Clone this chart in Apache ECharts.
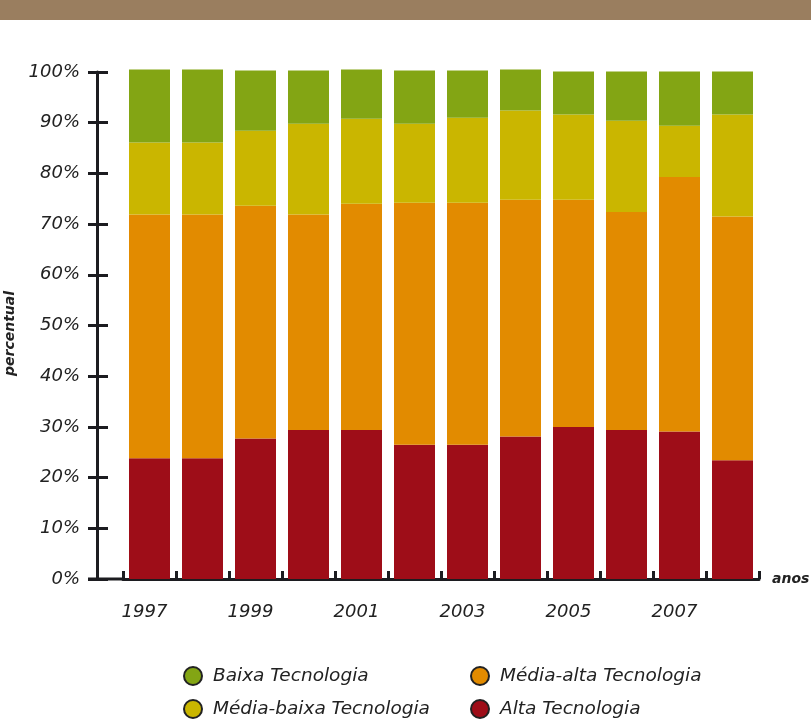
<!DOCTYPE html>
<html>
<head>
<meta charset="utf-8">
<script src="https://cdn.jsdelivr.net/npm/echarts@6/dist/echarts.min.js"></script>
<style>
html,body{margin:0;padding:0;background:#fff;}
#c{width:811px;height:720px;}
</style>
</head>
<body>
<div id="c"></div>
<script>
const years = ['1997','1998','1999','2000','2001','2002','2003','2004','2005','2006','2007','2008'];
const alta       = [23.8, 23.8, 27.7, 29.4, 29.4, 26.5, 26.5, 28.1, 30.0, 29.4, 29.1, 23.4];
const mediaAlta  = [48.1, 48.1, 45.9, 42.5, 44.6, 47.7, 47.7, 46.7, 44.8, 43.0, 50.2, 48.1];
const mediaBaixa = [14.2, 14.2, 14.8, 17.9, 16.8, 15.6, 16.8, 17.6, 16.8, 18.0, 10.1, 20.1];
const baixa      = [14.4, 14.4, 11.9, 10.5, 9.7, 10.5, 9.3, 8.1, 8.5, 9.7, 10.7, 8.5];
const names = ['Baixa Tecnologia','Média-baixa Tecnologia','Média-alta Tecnologia','Alta Tecnologia'];
const colors = {alta:'#9e0d18', mediaAlta:'#e28b00', mediaBaixa:'#cab600', baixa:'#83a514'};

const FONT = 'DejaVu Sans';
const INK = '#1c1c20';
const GRID = {left:123, right:52, top:72, bottom:141, outerBoundsMode:'none', containLabel:false};

const chart = echarts.init(document.getElementById('c'), null, {renderer:'canvas'});

function bar(name, data, color){
  return {name, type:'bar', stack:'t', data, barWidth:41, clip:false,
    itemStyle:{color}, emphasis:{disabled:true}};
}
function legend(name, left, top){
  return {data:[name], orient:'horizontal', left, top, padding:0, itemWidth:18, itemHeight:18,
    icon:'circle', itemStyle:{borderColor:'#222', borderWidth:2},
    textStyle:{fontFamily:FONT, fontStyle:'italic', fontSize:18.5, color:'#222', padding:[0,0,0,6]}};
}

chart.setOption({
  animation:false,
  backgroundColor:'#fff',
  textStyle:{fontFamily:FONT},
  graphic:[
    {type:'rect', left:0, top:0, shape:{width:811, height:20}, style:{fill:'#9a7e5f'}},
    {type:'line', shape:{x1:88, y1:720-GRID.bottom, x2:GRID.left, y2:720-GRID.bottom},
      style:{stroke:INK, lineWidth:3}}
  ],
  grid:GRID,
  legend:[
    legend(names[0], 183, 666), legend(names[1], 183, 699),
    legend(names[2], 470, 666), legend(names[3], 470, 699)
  ],
  xAxis:{
    type:'category', data:years,
    name:'anos', nameLocation:'end', nameGap:13,
    nameTextStyle:{fontFamily:FONT, fontStyle:'italic', fontWeight:'bold', fontSize:14, color:'#222', verticalAlign:'middle'},
    axisLine:{lineStyle:{color:INK, width:3}},
    axisTick:{show:true, inside:true, length:8, interval:0, lineStyle:{color:INK, width:3}},
    axisLabel:{interval:1, margin:24, padding:[0,10,0,0], fontFamily:FONT, fontStyle:'italic', fontSize:18, color:'#222'}
  },
  yAxis:[
    {type:'value', min:0, max:100, interval:10, offset:26,
      name:'percentual', nameLocation:'middle', nameRotate:90, nameGap:58,
      nameTextStyle:{fontFamily:FONT, fontStyle:'italic', fontWeight:'bold', fontSize:14, color:'#222', padding:[0,16,0,0]},
      axisLine:{show:true, lineStyle:{color:INK, width:3}},
      axisTick:{show:true, length:9, lineStyle:{color:INK, width:3}},
      splitLine:{show:false},
      axisLabel:{formatter:'{value}%', margin:17, fontFamily:FONT, fontStyle:'italic', fontSize:18, color:'#222'}},
    {type:'value', min:0, max:100, interval:10, offset:26, position:'left',
      axisLine:{show:false},
      axisTick:{show:true, inside:true, length:11, lineStyle:{color:INK, width:3}},
      splitLine:{show:false}, axisLabel:{show:false}}
  ],
  series:[
    bar(names[3], alta, colors.alta),
    bar(names[2], mediaAlta, colors.mediaAlta),
    bar(names[1], mediaBaixa, colors.mediaBaixa),
    bar(names[0], baixa, colors.baixa)
  ]
});
</script>
</body>
</html>
